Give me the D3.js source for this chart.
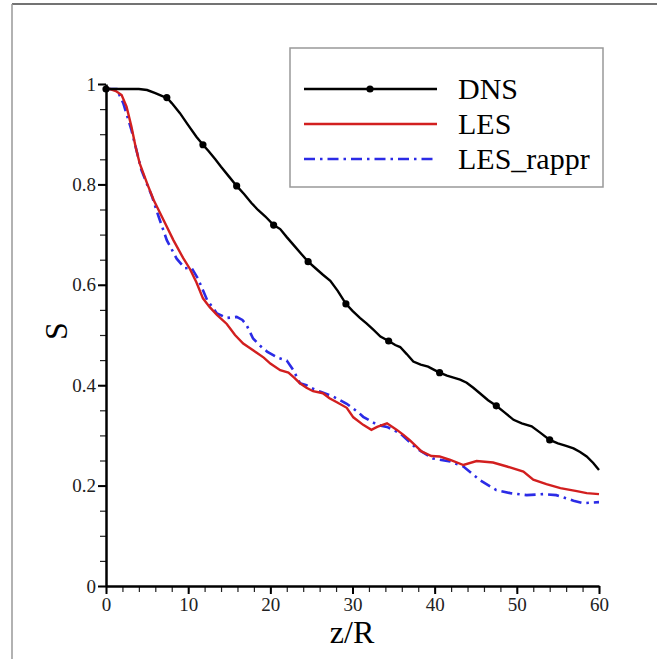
<!DOCTYPE html>
<html>
<head>
<meta charset="utf-8">
<script src="https://cdn.jsdelivr.net/npm/d3@7"></script>
<style>
  body { margin: 0; background: #fff; }
  svg { display: block; }
</style>
</head>
<body>
<svg id="chart" width="657" height="659"></svg>
<script>
// series values
const dnsZ = [0, 1, 2, 3, 4, 5, 6, 7, 7.4, 8, 9, 10, 11, 11.8, 12.5, 13.3, 14, 15, 15.9, 16.8, 17.7, 18.5, 19.4, 20.4, 21.2, 22, 23, 23.8, 24.6, 25.5, 26.4, 27.3, 28.2, 29.2, 30, 30.9, 31.7, 32.5, 33.4, 34.4, 35.2, 35.8, 36.6, 37.4, 38.3, 39.2, 40, 40.6, 41.5, 42.3, 43.1, 43.9, 44.7, 45.5, 46.5, 47.5, 48.5, 49.6, 50.6, 51.8, 52.8, 54, 55, 56, 56.9, 57.7, 58.5, 59.3, 60];
const dnsS = [0.99, 0.99, 0.99, 0.99, 0.99, 0.988, 0.982, 0.975, 0.973, 0.962, 0.942, 0.918, 0.895, 0.879, 0.866, 0.85, 0.835, 0.815, 0.797, 0.781, 0.763, 0.749, 0.736, 0.719, 0.711, 0.695, 0.676, 0.661, 0.646, 0.633, 0.62, 0.608, 0.588, 0.562, 0.548, 0.534, 0.523, 0.511, 0.497, 0.488, 0.48, 0.476, 0.462, 0.447, 0.441, 0.437, 0.43, 0.425, 0.419, 0.415, 0.411, 0.405, 0.395, 0.384, 0.37, 0.359, 0.346, 0.331, 0.324, 0.318, 0.306, 0.291, 0.284, 0.279, 0.274, 0.267, 0.258, 0.245, 0.231];
const dnsMarkerZ = [0, 7.4, 11.8, 15.9, 20.4, 24.6, 29.2, 34.4, 40.6, 47.5, 54];

const lesZ = [0, 0.5, 1.2, 1.9, 2.5, 3.1, 3.6, 4.1, 5, 5.8, 7, 8.2, 9.4, 10.2, 11, 11.8, 12.6, 13.5, 14.7, 15.7, 16.7, 17.5, 18.3, 19.2, 20, 21.2, 22.2, 22.9, 23.6, 24.4, 25.2, 26.4, 27.2, 28.1, 29.3, 30.1, 31.3, 32.3, 33, 34.2, 35.4, 36.2, 37, 38.4, 39.6, 40.6, 41.9, 43.5, 45.1, 47.1, 48.8, 50.8, 52, 53.6, 55.3, 57.3, 58.5, 60];
const lesS = [0.99, 0.99, 0.986, 0.978, 0.955, 0.915, 0.875, 0.842, 0.802, 0.769, 0.729, 0.689, 0.653, 0.632, 0.605, 0.573, 0.556, 0.54, 0.522, 0.5, 0.483, 0.474, 0.465, 0.455, 0.443, 0.43, 0.425, 0.415, 0.404, 0.395, 0.388, 0.384, 0.374, 0.366, 0.355, 0.336, 0.321, 0.311, 0.317, 0.324, 0.311, 0.301, 0.29, 0.268, 0.259, 0.258, 0.251, 0.241, 0.249, 0.246, 0.238, 0.228, 0.212, 0.203, 0.195, 0.189, 0.185, 0.183];

const rapprZ = [0, 1.3, 2.1, 3.1, 4.3, 5.6, 6.4, 7.4, 8.6, 9.6, 10.4, 11.2, 12.3, 13.5, 14.7, 15.9, 16.6, 17.1, 17.9, 18.8, 19.6, 21, 22, 22.8, 23.6, 24.4, 25.2, 26.1, 27.7, 29.3, 30.7, 31.3, 33, 34.2, 35.8, 37.8, 39.8, 41.9, 43.5, 45.5, 47.5, 49.2, 51.2, 53.2, 54.8, 56.9, 58.1, 60];
const rapprS = [0.99, 0.99, 0.962, 0.908, 0.829, 0.776, 0.736, 0.689, 0.652, 0.633, 0.634, 0.612, 0.57, 0.543, 0.534, 0.536, 0.53, 0.52, 0.493, 0.478, 0.467, 0.454, 0.449, 0.43, 0.404, 0.4, 0.393, 0.387, 0.377, 0.363, 0.346, 0.337, 0.321, 0.317, 0.304, 0.274, 0.254, 0.248, 0.238, 0.211, 0.191, 0.185, 0.181, 0.183, 0.181, 0.17, 0.165, 0.167];

const xTicks = [0, 10, 20, 30, 40, 50, 60];
const yTicks = [0, 0.2, 0.4, 0.6, 0.8, 1];
const legendNames = ["DNS", "LES", "LES_rappr"];

const SERIF = "'Liberation Serif', 'Times New Roman', serif";
const svg = d3.select("#chart");

// outer frame (only top and left edges show)
svg.append("line").attr("x1", 12).attr("x2", 657).attr("y1", 4).attr("y2", 4)
  .attr("stroke", "#444").attr("stroke-width", 1.5);
svg.append("line").attr("x1", 12).attr("x2", 12).attr("y1", 4).attr("y2", 659)
  .attr("stroke", "#999").attr("stroke-width", 1.5);

const x = d3.scaleLinear().domain([0, 60]).range([106, 599]);
const y = d3.scaleLinear().domain([0, 1]).range([586, 84]);

// minor ticks first, then major axes on top
svg.append("g").attr("transform", "translate(0,586)")
  .call(d3.axisBottom(x).tickValues(d3.range(0, 61, 2)).tickSize(6).tickFormat(""))
  .call(g => g.select(".domain").remove())
  .call(g => g.selectAll("line").attr("stroke", "#222").attr("stroke-width", 1.2));
svg.append("g").attr("transform", "translate(106,0)")
  .call(d3.axisLeft(y).tickValues(d3.range(0, 1.001, 0.05)).tickSize(6).tickFormat(""))
  .call(g => g.select(".domain").remove())
  .call(g => g.selectAll("line").attr("stroke", "#222").attr("stroke-width", 1.2));

svg.append("g").attr("transform", "translate(0,586)")
  .call(d3.axisBottom(x).tickValues(xTicks).tickSize(8).tickSizeOuter(0).tickPadding(4))
  .attr("font-family", SERIF).attr("font-size", 19)
  .call(g => g.select(".domain").attr("stroke", "#000").attr("stroke-width", 2.5))
  .call(g => g.selectAll(".tick line").attr("stroke", "#000").attr("stroke-width", 2))
  .call(g => g.selectAll(".tick text").attr("fill", "#222"));
svg.append("g").attr("transform", "translate(106,0)")
  .call(d3.axisLeft(y).tickValues(yTicks).tickSize(8).tickSizeOuter(0).tickPadding(2)
    .tickFormat(d => d === 0 || d === 1 ? d3.format("d")(d) : d3.format(".1f")(d)))
  .attr("font-family", SERIF).attr("font-size", 19)
  .call(g => g.select(".domain").attr("stroke", "#000").attr("stroke-width", 2.5))
  .call(g => g.selectAll(".tick line").attr("stroke", "#000").attr("stroke-width", 2))
  .call(g => g.selectAll(".tick text").attr("fill", "#222"));

// axis titles
svg.append("text").attr("x", 352).attr("y", 643).attr("text-anchor", "middle")
  .attr("font-family", SERIF).attr("font-size", 32).text("z/R");
svg.append("text").attr("transform", "translate(67,331) rotate(-90)").attr("text-anchor", "middle")
  .attr("font-family", SERIF).attr("font-size", 32).text("S");

const line = d3.line().x(d => x(d[0])).y(d => y(d[1]));

const dns = d3.zip(dnsZ, dnsS);
const les = d3.zip(lesZ, lesS);
const rappr = d3.zip(rapprZ, rapprS);

svg.append("path").datum(rappr).attr("d", line).attr("fill", "none")
  .attr("stroke", "#2b2be6").attr("stroke-width", 2.6).attr("stroke-dasharray", "11,5,2.5,5");
svg.append("path").datum(les).attr("d", line).attr("fill", "none")
  .attr("stroke", "#d21f1f").attr("stroke-width", 2.4);
svg.append("path").datum(dns).attr("d", line).attr("fill", "none")
  .attr("stroke", "#000").attr("stroke-width", 2.4);
svg.append("g").selectAll("circle")
  .data(dns.filter(d => dnsMarkerZ.includes(d[0])))
  .join("circle")
  .attr("cx", d => x(d[0])).attr("cy", d => y(d[1])).attr("r", 3.6).attr("fill", "#000");

// legend
const legend = svg.append("g");
legend.append("rect").attr("x", 290).attr("y", 48).attr("width", 313).attr("height", 139)
  .attr("fill", "#fff").attr("stroke", "#999").attr("stroke-width", 1.5);
const legendStyles = [
  { stroke: "#000", dash: null, width: 2.4 },
  { stroke: "#d21f1f", dash: null, width: 2.6 },
  { stroke: "#2b2be6", dash: "11,5,2.5,5", width: 2.6 }
];
legendNames.forEach((name, i) => {
  const ly = 89 + i * 35;
  legend.append("line").attr("x1", 304).attr("x2", 437).attr("y1", ly).attr("y2", ly)
    .attr("stroke", legendStyles[i].stroke).attr("stroke-width", legendStyles[i].width)
    .attr("stroke-dasharray", legendStyles[i].dash);
  if (i === 0) {
    legend.append("circle").attr("cx", 370).attr("cy", ly).attr("r", 3.6).attr("fill", "#000");
  }
  legend.append("text").attr("x", 458).attr("y", ly + 10)
    .attr("font-family", SERIF).attr("font-size", 30).text(name);
});
</script>
</body>
</html>
